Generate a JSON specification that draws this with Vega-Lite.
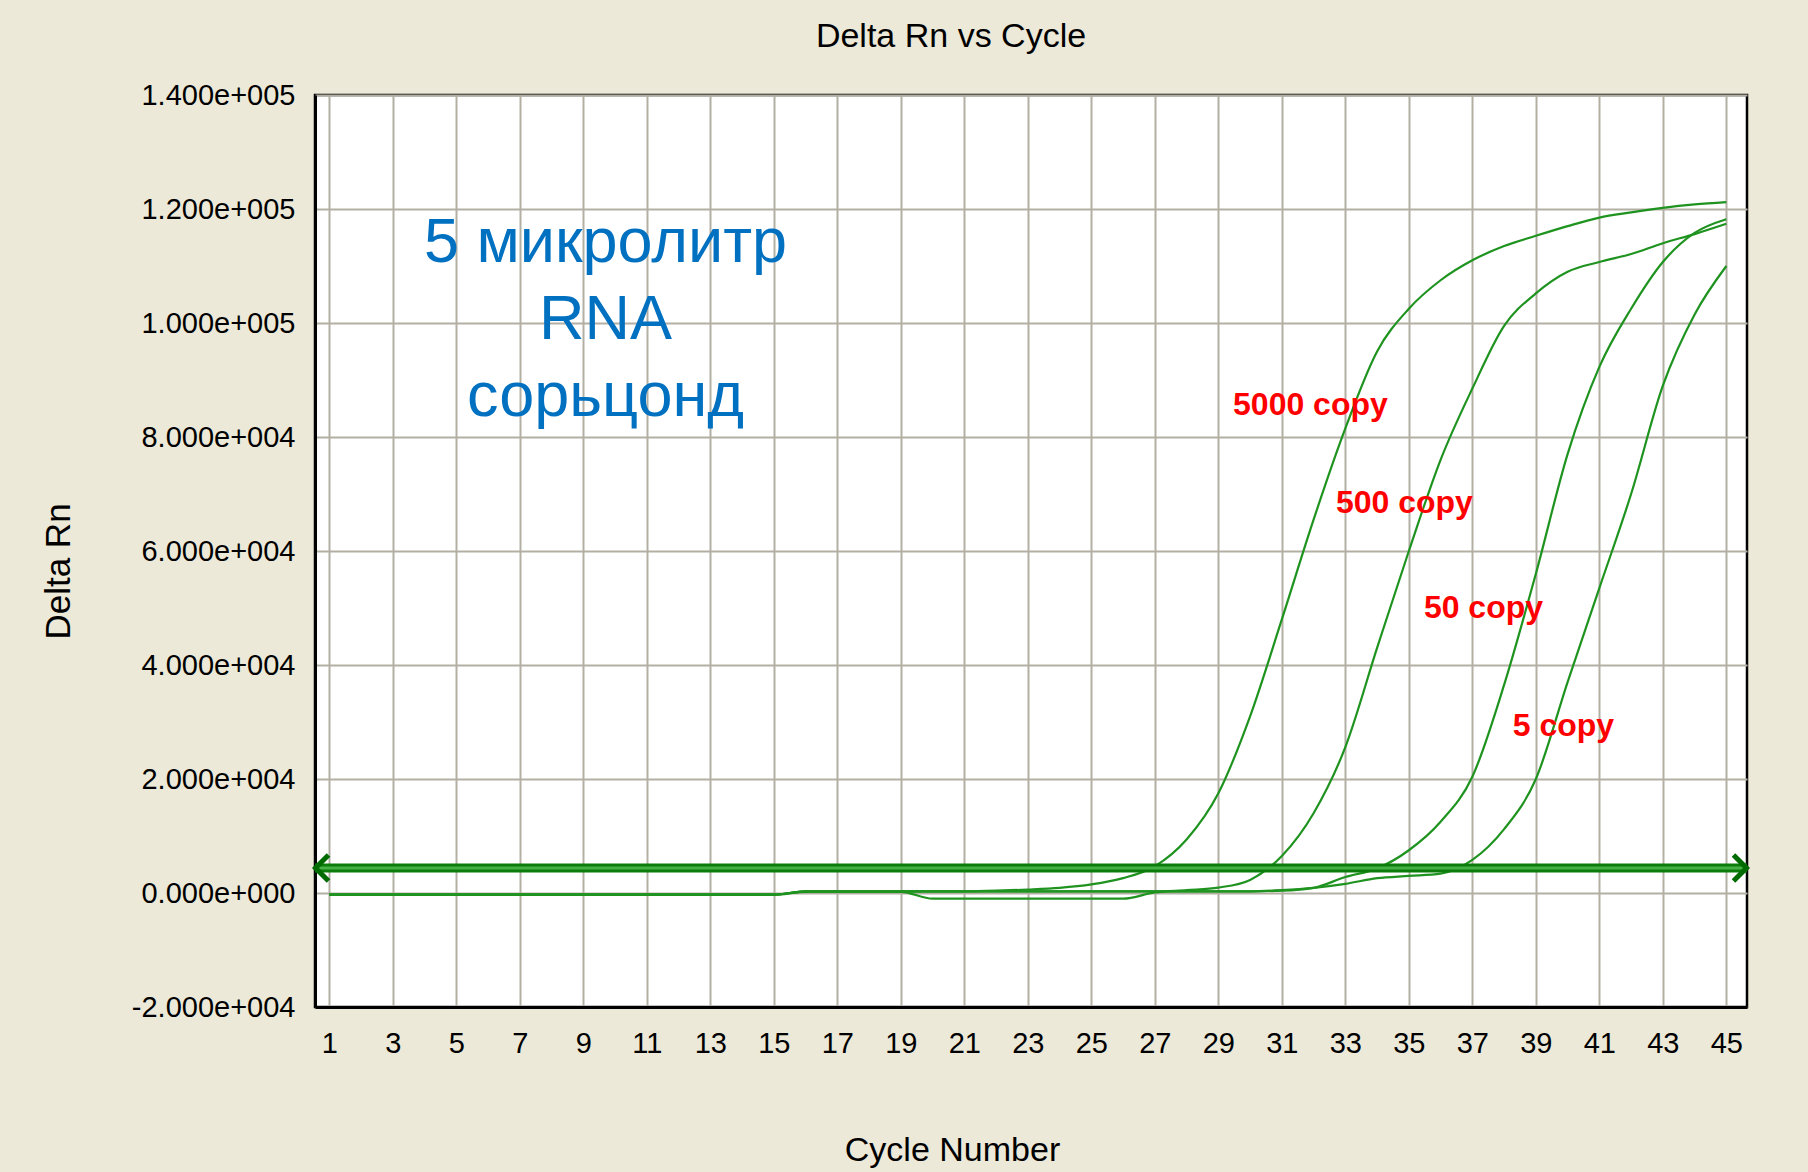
{
  "$schema": "https://vega.github.io/schema/vega-lite/v6.json",
  "width": 1432,
  "height": 912,
  "autosize": {"type": "none"},
  "padding": {"left": 315, "top": 95, "right": 61, "bottom": 165},
  "background": "#ECE9D8",
  "config": {
    "view": {"fill": "white", "stroke": "#000000", "strokeWidth": 2.5}
  },
  "title": {
    "text": "Delta Rn vs Cycle",
    "font": "Liberation Sans",
    "fontSize": 34,
    "fontWeight": "normal",
    "color": "#000000",
    "anchor": "middle",
    "dx": -80,
    "offset": 27
  },
  "datasets": {
    "curves": [
      {"s":"5000","c":1,"v":-300},{"s":"5000","c":2,"v":-300},{"s":"5000","c":3,"v":-300},{"s":"5000","c":4,"v":-300},{"s":"5000","c":5,"v":-300},{"s":"5000","c":6,"v":-300},{"s":"5000","c":7,"v":-300},{"s":"5000","c":8,"v":-300},{"s":"5000","c":9,"v":-300},{"s":"5000","c":10,"v":-300},{"s":"5000","c":11,"v":-300},{"s":"5000","c":12,"v":-300},{"s":"5000","c":13,"v":-300},{"s":"5000","c":14,"v":-300},{"s":"5000","c":15,"v":-300},{"s":"5000","c":16,"v":300},{"s":"5000","c":17,"v":300},{"s":"5000","c":18,"v":300},{"s":"5000","c":19,"v":300},{"s":"5000","c":20,"v":300},{"s":"5000","c":21,"v":300},{"s":"5000","c":22,"v":400},{"s":"5000","c":23,"v":600},{"s":"5000","c":24,"v":900},{"s":"5000","c":25,"v":1500},{"s":"5000","c":26,"v":2600},{"s":"5000","c":27,"v":4700},{"s":"5000","c":28,"v":9400},{"s":"5000","c":29,"v":17500},{"s":"5000","c":30,"v":31000},{"s":"5000","c":31,"v":48000},{"s":"5000","c":32,"v":65500},{"s":"5000","c":33,"v":81500},{"s":"5000","c":34,"v":95000},{"s":"5000","c":35,"v":102500},{"s":"5000","c":36,"v":107500},{"s":"5000","c":37,"v":111000},{"s":"5000","c":38,"v":113500},{"s":"5000","c":39,"v":115300},{"s":"5000","c":40,"v":117000},{"s":"5000","c":41,"v":118500},{"s":"5000","c":42,"v":119400},{"s":"5000","c":43,"v":120200},{"s":"5000","c":44,"v":120800},{"s":"5000","c":45,"v":121200},
      {"s":"500","c":1,"v":-300},{"s":"500","c":2,"v":-300},{"s":"500","c":3,"v":-300},{"s":"500","c":4,"v":-300},{"s":"500","c":5,"v":-300},{"s":"500","c":6,"v":-300},{"s":"500","c":7,"v":-300},{"s":"500","c":8,"v":-300},{"s":"500","c":9,"v":-300},{"s":"500","c":10,"v":-300},{"s":"500","c":11,"v":-300},{"s":"500","c":12,"v":-300},{"s":"500","c":13,"v":-300},{"s":"500","c":14,"v":-300},{"s":"500","c":15,"v":-300},{"s":"500","c":16,"v":200},{"s":"500","c":17,"v":200},{"s":"500","c":18,"v":200},{"s":"500","c":19,"v":200},{"s":"500","c":20,"v":-1000},{"s":"500","c":21,"v":-1000},{"s":"500","c":22,"v":-1000},{"s":"500","c":23,"v":-1000},{"s":"500","c":24,"v":-1000},{"s":"500","c":25,"v":-1000},{"s":"500","c":26,"v":-1000},{"s":"500","c":27,"v":100},{"s":"500","c":28,"v":500},{"s":"500","c":29,"v":950},{"s":"500","c":30,"v":2300},{"s":"500","c":31,"v":6500},{"s":"500","c":32,"v":14000},{"s":"500","c":33,"v":25600},{"s":"500","c":34,"v":43000},{"s":"500","c":35,"v":60000},{"s":"500","c":36,"v":76000},{"s":"500","c":37,"v":88500},{"s":"500","c":38,"v":99500},{"s":"500","c":39,"v":105200},{"s":"500","c":40,"v":109000},{"s":"500","c":41,"v":110700},{"s":"500","c":42,"v":112100},{"s":"500","c":43,"v":114000},{"s":"500","c":44,"v":115600},{"s":"500","c":45,"v":117400},
      {"s":"50","c":1,"v":-300},{"s":"50","c":2,"v":-300},{"s":"50","c":3,"v":-300},{"s":"50","c":4,"v":-300},{"s":"50","c":5,"v":-300},{"s":"50","c":6,"v":-300},{"s":"50","c":7,"v":-300},{"s":"50","c":8,"v":-300},{"s":"50","c":9,"v":-300},{"s":"50","c":10,"v":-300},{"s":"50","c":11,"v":-300},{"s":"50","c":12,"v":-300},{"s":"50","c":13,"v":-300},{"s":"50","c":14,"v":-300},{"s":"50","c":15,"v":-300},{"s":"50","c":16,"v":300},{"s":"50","c":17,"v":300},{"s":"50","c":18,"v":300},{"s":"50","c":19,"v":300},{"s":"50","c":20,"v":300},{"s":"50","c":21,"v":300},{"s":"50","c":22,"v":300},{"s":"50","c":23,"v":300},{"s":"50","c":24,"v":300},{"s":"50","c":25,"v":300},{"s":"50","c":26,"v":300},{"s":"50","c":27,"v":300},{"s":"50","c":28,"v":300},{"s":"50","c":29,"v":300},{"s":"50","c":30,"v":300},{"s":"50","c":31,"v":400},{"s":"50","c":32,"v":900},{"s":"50","c":33,"v":2800},{"s":"50","c":34,"v":4300},{"s":"50","c":35,"v":7500},{"s":"50","c":36,"v":12500},{"s":"50","c":37,"v":20400},{"s":"50","c":38,"v":36500},{"s":"50","c":39,"v":56000},{"s":"50","c":40,"v":77000},{"s":"50","c":41,"v":92300},{"s":"50","c":42,"v":102500},{"s":"50","c":43,"v":110700},{"s":"50","c":44,"v":115800},{"s":"50","c":45,"v":118200},
      {"s":"5","c":1,"v":-300},{"s":"5","c":2,"v":-300},{"s":"5","c":3,"v":-300},{"s":"5","c":4,"v":-300},{"s":"5","c":5,"v":-300},{"s":"5","c":6,"v":-300},{"s":"5","c":7,"v":-300},{"s":"5","c":8,"v":-300},{"s":"5","c":9,"v":-300},{"s":"5","c":10,"v":-300},{"s":"5","c":11,"v":-300},{"s":"5","c":12,"v":-300},{"s":"5","c":13,"v":-300},{"s":"5","c":14,"v":-300},{"s":"5","c":15,"v":-300},{"s":"5","c":16,"v":300},{"s":"5","c":17,"v":300},{"s":"5","c":18,"v":300},{"s":"5","c":19,"v":300},{"s":"5","c":20,"v":300},{"s":"5","c":21,"v":300},{"s":"5","c":22,"v":300},{"s":"5","c":23,"v":300},{"s":"5","c":24,"v":300},{"s":"5","c":25,"v":300},{"s":"5","c":26,"v":300},{"s":"5","c":27,"v":300},{"s":"5","c":28,"v":300},{"s":"5","c":29,"v":300},{"s":"5","c":30,"v":300},{"s":"5","c":31,"v":500},{"s":"5","c":32,"v":900},{"s":"5","c":33,"v":1600},{"s":"5","c":34,"v":2600},{"s":"5","c":35,"v":3000},{"s":"5","c":36,"v":3400},{"s":"5","c":37,"v":5800},{"s":"5","c":38,"v":11200},{"s":"5","c":39,"v":20000},{"s":"5","c":40,"v":37000},{"s":"5","c":41,"v":53500},{"s":"5","c":42,"v":70000},{"s":"5","c":43,"v":89000},{"s":"5","c":44,"v":101500},{"s":"5","c":45,"v":110000}
    ],
    "threshold": [{"t": 4400}],
    "arrows": [
      {"c": 0.55, "t": 4400, "side": "left"},
      {"c": 45.65, "t": 4400, "side": "right"}
    ],
    "blue": [
      {"c": 9.7, "v": 114100, "txt": "5 микролитр"},
      {"c": 9.7, "v": 100600, "txt": "RNA"},
      {"c": 9.7, "v": 87000, "txt": "сорьцонд"}
    ],
    "red": [
      {"c": 31.9, "v": 85700, "txt": "5000 copy"},
      {"c": 34.86, "v": 68500, "txt": "500 copy"},
      {"c": 37.35, "v": 50000, "txt": "50 copy"},
      {"c": 39.87, "v": 29300, "txt": "5 copy"}
    ]
  },
  "layer": [
    {
      "data": {"name": "curves"},
      "mark": {"type": "line", "interpolate": "monotone", "stroke": "#1f931f", "strokeWidth": 2.2},
      "encoding": {
        "x": {
          "field": "c", "type": "quantitative",
          "scale": {"domain": [0.55, 45.65], "nice": false, "zero": false},
          "axis": {
            "values": [1,3,5,7,9,11,13,15,17,19,21,23,25,27,29,31,33,35,37,39,41,43,45],
            "grid": true, "gridColor": "#b3afa3", "gridWidth": 2, "gridOpacity": 1,
            "ticks": false,
            "domain": true, "domainColor": "#000000", "domainWidth": 3,
            "labelFont": "Liberation Sans",
            "labelFontSize": 29, "labelColor": "#000000", "labelPadding": 22,
            "labelFlush": false, "labelOverlap": false, "labelLimit": 0,
            "title": "Cycle Number",
            "titleFont": "Liberation Sans",
            "titleFontSize": 34, "titleFontWeight": "normal", "titleColor": "#000000",
            "titleX": 637, "titleY": 153, "titleBaseline": "alphabetic", "titleAlign": "center"
          }
        },
        "y": {
          "field": "v", "type": "quantitative",
          "scale": {"domain": [-20000, 140000], "nice": false, "zero": false},
          "axis": {
            "values": [-20000, 0, 20000, 40000, 60000, 80000, 100000, 120000, 140000],
            "labelExpr": "datum.value < 0 ? '-' + replace(format(-datum.value, '.3e'), 'e+', 'e+00') : replace(format(datum.value, '.3e'), 'e+', 'e+00')",
            "grid": true, "gridColor": "#b3afa3", "gridWidth": 2, "gridOpacity": 1,
            "ticks": false,
            "domain": true, "domainColor": "#000000", "domainWidth": 3,
            "labelFont": "Liberation Sans",
            "labelFontSize": 29, "labelColor": "#000000", "labelPadding": 20,
            "labelFlush": false, "labelOverlap": false, "labelLimit": 0,
            "title": "Delta Rn",
            "titleFont": "Liberation Sans",
            "titleFontSize": 35, "titleFontWeight": "normal", "titleColor": "#000000",
            "titleX": -257, "titleY": 476, "titleAngle": -90, "titleBaseline": "middle", "titleAlign": "center"
          }
        },
        "detail": {"field": "s", "type": "nominal"}
      }
    },
    {
      "data": {"name": "threshold"},
      "mark": {"type": "rule", "stroke": "#0a7d0a", "strokeWidth": 9},
      "encoding": {"y": {"field": "t", "type": "quantitative"}}
    },
    {
      "data": {"name": "threshold"},
      "mark": {"type": "rule", "stroke": "#45b045", "strokeWidth": 3},
      "encoding": {"y": {"field": "t", "type": "quantitative"}}
    },
    {
      "data": {"name": "arrows"},
      "transform": [{"filter": "datum.side == 'left'"}],
      "mark": {"type": "point", "shape": "M0.5,-1L-0.5,0L0.5,1", "filled": false, "stroke": "#006b00", "strokeWidth": 5, "opacity": 1, "size": 676, "xOffset": 7},
      "encoding": {
        "x": {"field": "c", "type": "quantitative"},
        "y": {"field": "t", "type": "quantitative"}
      }
    },
    {
      "data": {"name": "arrows"},
      "transform": [{"filter": "datum.side == 'right'"}],
      "mark": {"type": "point", "shape": "M-0.5,-1L0.5,0L-0.5,1", "filled": false, "stroke": "#006b00", "strokeWidth": 5, "opacity": 1, "size": 676, "xOffset": -7},
      "encoding": {
        "x": {"field": "c", "type": "quantitative"},
        "y": {"field": "t", "type": "quantitative"}
      }
    },
    {
      "data": {"name": "blue"},
      "mark": {"type": "text", "font": "Liberation Sans", "fontSize": 63, "color": "#0070C0", "align": "center", "baseline": "middle"},
      "encoding": {
        "x": {"field": "c", "type": "quantitative"},
        "y": {"field": "v", "type": "quantitative"},
        "text": {"field": "txt", "type": "nominal"}
      }
    },
    {
      "data": {"name": "red"},
      "mark": {"type": "text", "font": "Liberation Sans", "fontSize": 32, "fontWeight": "bold", "color": "#FF0000", "align": "center", "baseline": "middle"},
      "encoding": {
        "x": {"field": "c", "type": "quantitative"},
        "y": {"field": "v", "type": "quantitative"},
        "text": {"field": "txt", "type": "nominal"}
      }
    }
  ]
}
